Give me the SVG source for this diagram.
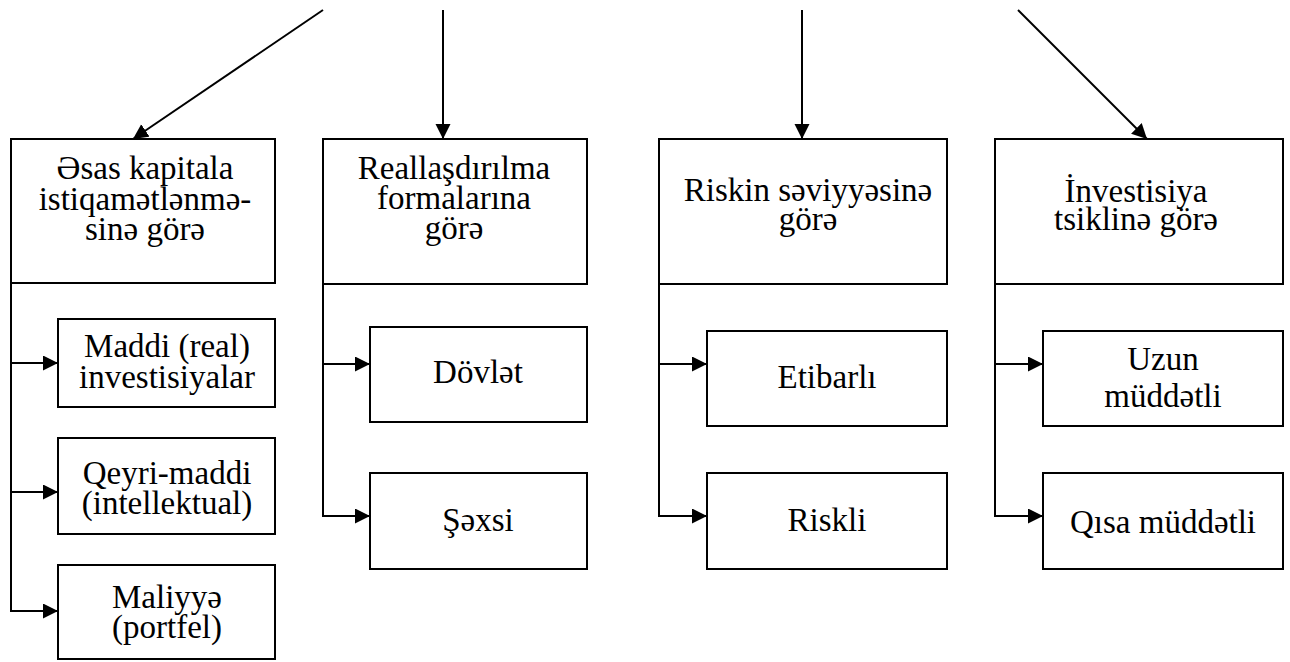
<svg xmlns="http://www.w3.org/2000/svg" width="1290" height="662" viewBox="0 0 1290 662">
<style>
rect{fill:#fff;stroke:#000;stroke-width:2}
.c line,.c path{stroke:#000;stroke-width:2;fill:none}
text{font-family:"Liberation Serif","Times New Roman",serif;font-size:33px;fill:#000;text-anchor:middle}
</style>
<defs>
<marker id="ah" markerUnits="userSpaceOnUse" markerWidth="16" markerHeight="16" refX="15" refY="7.5" orient="auto">
<path d="M0,0 L15,7.5 L0,15 z" fill="#000"/>
</marker>
</defs>
<rect width="1290" height="662" style="fill:#fff;stroke:none"/>
<g class="c" id="connectors">
<line x1="323" y1="10" x2="133" y2="139" marker-end="url(#ah)"/>
<line x1="443" y1="10" x2="443" y2="139" marker-end="url(#ah)"/>
<line x1="802" y1="10" x2="802" y2="139" marker-end="url(#ah)"/>
<line x1="1018" y1="10" x2="1147" y2="139" marker-end="url(#ah)"/>
<path d="M11,283 V611"/>
<line x1="11" y1="363" x2="58" y2="363" marker-end="url(#ah)"/>
<line x1="11" y1="492" x2="58" y2="492" marker-end="url(#ah)"/>
<line x1="10" y1="611" x2="58" y2="611" marker-end="url(#ah)"/>
<path d="M323,284 V516"/>
<line x1="323" y1="364" x2="370" y2="364" marker-end="url(#ah)"/>
<line x1="322" y1="516" x2="370" y2="516" marker-end="url(#ah)"/>
<path d="M659,284 V516"/>
<line x1="659" y1="364" x2="707" y2="364" marker-end="url(#ah)"/>
<line x1="658" y1="516" x2="707" y2="516" marker-end="url(#ah)"/>
<path d="M995,284 V516"/>
<line x1="995" y1="364" x2="1043" y2="364" marker-end="url(#ah)"/>
<line x1="994" y1="516" x2="1043" y2="516" marker-end="url(#ah)"/>
</g>
<g id="n1"><rect x="11" y="139" width="264" height="144"/>
<text x="145" y="179">Əsas kapitala</text><text x="145" y="210">istiqamətlənmə-</text><text x="145" y="240">sinə görə</text></g>
<g id="n2"><rect x="323" y="139" width="264" height="145"/>
<text x="454" y="179">Reallaşdırılma</text><text x="454" y="209">formalarına</text><text x="454" y="239">görə</text></g>
<g id="n3"><rect x="659" y="139" width="288" height="145"/>
<text x="808" y="201">Riskin səviyyəsinə</text><text x="808" y="230">görə</text></g>
<g id="n4"><rect x="995" y="139" width="288" height="145"/>
<text x="1136" y="202">İnvestisiya</text><text x="1136" y="230">tsiklinə görə</text></g>
<g id="n5"><rect x="58" y="319" width="217" height="88"/>
<text x="167" y="357">Maddi (real)</text><text x="167" y="388">investisiyalar</text></g>
<g id="n6"><rect x="58" y="438" width="217" height="96"/>
<text x="167" y="484">Qeyri-maddi</text><text x="167" y="514">(intellektual)</text></g>
<g id="n7"><rect x="58" y="565" width="217" height="94"/>
<text x="167" y="608">Maliyyə</text><text x="167" y="638">(portfel)</text></g>
<g id="n8"><rect x="370" y="327" width="217" height="95"/>
<text x="478" y="383">Dövlət</text></g>
<g id="n9"><rect x="370" y="473" width="217" height="96"/>
<text x="478" y="531">Şəxsi</text></g>
<g id="n10"><rect x="707" y="331" width="240" height="95"/>
<text x="827" y="388">Etibarlı</text></g>
<g id="n11"><rect x="707" y="473" width="240" height="96"/>
<text x="827" y="531">Riskli</text></g>
<g id="n12"><rect x="1043" y="331" width="240" height="95"/>
<text x="1163" y="370">Uzun</text><text x="1163" y="407">müddətli</text></g>
<g id="n13"><rect x="1043" y="473" width="240" height="96"/>
<text x="1163" y="533">Qısa müddətli</text></g>
</svg>
